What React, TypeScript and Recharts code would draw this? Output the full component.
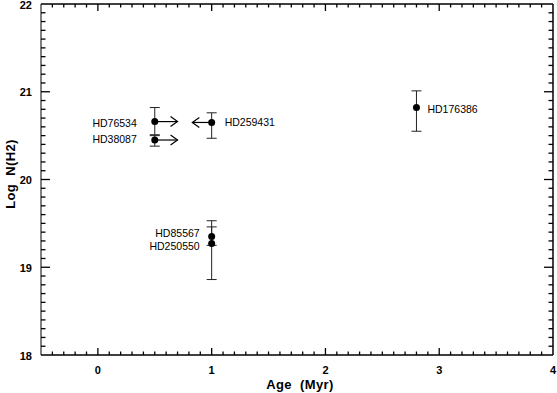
import React from 'react';
import { ScatterChart, Scatter, XAxis, YAxis, ErrorBar, ReferenceLine } from 'recharts';

// stars and measured column densities
const stars = ['HD76534', 'HD38087', 'HD259431', 'HD176386', 'HD85567', 'HD250550'];
const ages = [0.5, 0.5, 1, 2.8, 1, 1];
const logNH2 = [20.66, 20.45, 20.65, 20.82, 19.35, 19.27];
const errLow = [0.15, 0.07, 0.18, 0.27, 0.1, 0.41];
const errHigh = [0.16, 0.05, 0.11, 0.19, 0.18, 0.19];

// age limits (arrows): from the point age to the arrow tip
const limitStars = ['HD76534', 'HD38087', 'HD259431'];
const limitFrom = [0.5, 0.5, 1];
const limitTo = [0.7, 0.7, 0.83];
const limitY = [20.66, 20.45, 20.65];

const xMajor = [0, 1, 2, 3, 4];
const yMajor = [18, 19, 20, 21, 22];
// labels sitting on the box edges
const yEdgeLabels = [18, 22];
const xEdgeLabels = [4];

// label placement for each star
const labelPlace: Record<string, { side: string; gap: number; dy: number }> = {
  HD76534: { side: 'left', gap: 18, dy: 5.5 },
  HD38087: { side: 'left', gap: 18, dy: 2.5 },
  HD259431: { side: 'right', gap: 13, dy: 3.5 },
  HD176386: { side: 'right', gap: 11, dy: 5 },
  HD85567: { side: 'left', gap: 12, dy: 0.5 },
  HD250550: { side: 'left', gap: 12, dy: 6 },
};

const data = stars.map((name, i) => ({
  name,
  age: ages[i],
  logN: logNH2[i],
  err: [errLow[i], errHigh[i]],
}));

// minor ticks every 0.1 (inner ones only)
const xTicks: number[] = [];
for (let i = -4; i <= 39; i++) xTicks.push(i / 10);
const yTicks: number[] = [];
for (let i = 181; i <= 219; i++) yTicks.push(i / 10);

const font = 'Liberation Sans, Arial, Helvetica, sans-serif';
const isMajor = (v: number) => Math.abs(v - Math.round(v)) < 1e-6;

const BottomTick = (p: any) => {
  const v = p.payload.value;
  const m = isMajor(v);
  return (
    <g>
      <line x1={p.x} x2={p.x} y1={p.y} y2={p.y - (m ? 7 : 3.5)} stroke="#000" strokeWidth={1.3} />
      {m && xMajor.includes(Math.round(v)) && (
        <text x={p.x} y={p.y + 19} textAnchor="middle" fontFamily={font} fontWeight="bold" fontSize={11} fill="#000">
          {Math.round(v)}
        </text>
      )}
    </g>
  );
};

const TopTick = (p: any) => {
  const m = isMajor(p.payload.value);
  return <line x1={p.x} x2={p.x} y1={p.y} y2={p.y + (m ? 7 : 3.5)} stroke="#000" strokeWidth={1.3} />;
};

const LeftTick = (p: any) => {
  const v = p.payload.value;
  const m = isMajor(v);
  return (
    <g>
      <line x1={p.x} x2={p.x + (m ? 9 : 4.5)} y1={p.y} y2={p.y} stroke="#000" strokeWidth={1.3} />
      {m && yMajor.includes(Math.round(v)) && (
        <text x={p.x - 9} y={p.y + 4.5} textAnchor="end" fontFamily={font} fontWeight="bold" fontSize={11} fill="#000">
          {Math.round(v)}
        </text>
      )}
    </g>
  );
};

const RightTick = (p: any) => {
  const m = isMajor(p.payload.value);
  return <line x1={p.x} x2={p.x - (m ? 9 : 4.5)} y1={p.y} y2={p.y} stroke="#000" strokeWidth={1.3} />;
};

const yEdgeLabel = (t: number) => (p: any) => (
  <text x={p.viewBox.x - 9} y={p.viewBox.y + 4.5} textAnchor="end" fontFamily={font} fontWeight="bold" fontSize={11} fill="#000">
    {t}
  </text>
);

const xEdgeLabel = (t: number) => (p: any) => (
  <text x={p.viewBox.x} y={p.viewBox.y + p.viewBox.height + 19} textAnchor="middle" fontFamily={font} fontWeight="bold" fontSize={11} fill="#000">
    {t}
  </text>
);

const StarPoint = (p: any) => {
  const { cx, cy, payload } = p;
  const lab = labelPlace[payload.name];
  const left = lab.side === 'left';
  return (
    <g>
      <circle cx={cx} cy={cy} r={3.5} fill="#000" />
      <text
        x={left ? cx - lab.gap : cx + lab.gap}
        y={cy + lab.dy}
        textAnchor={left ? 'end' : 'start'}
        fontFamily={font}
        fontSize={10.5}
        fill="#000"
      >
        {payload.name}
      </text>
    </g>
  );
};

const Arrow = (p: any) => {
  const { x1, y1, x2, y2 } = p;
  const dir = x2 > x1 ? 1 : -1;
  return (
    <g stroke="#000" strokeWidth={1.2} fill="none">
      <line x1={x1} y1={y1} x2={x2} y2={y2} />
      <polyline points={`${x2 - dir * 7},${y2 - 5} ${x2},${y2} ${x2 - dir * 7},${y2 + 5}`} />
    </g>
  );
};

export default function App() {
  return (
    <div style={{ position: 'absolute', left: 0, top: 0, background: '#fff' }}>
      <ScatterChart width={557} height={393} margin={{ top: 3, right: 3, bottom: 0, left: 0 }}>
        <XAxis
          type="number"
          dataKey="age"
          domain={[-0.5, 4]}
          ticks={xTicks}
          interval={0}
          allowDataOverflow
          height={38}
          tickSize={0}
          tickMargin={0}
          tickLine={false}
          tick={<BottomTick />}
          axisLine={{ stroke: '#000' }}
          label={{
            content: () => (
              <text x={300} y={389} textAnchor="middle" fontFamily={font} fontWeight="bold" fontSize={13} letterSpacing={0.4} fill="#000" style={{ whiteSpace: 'pre' }}>
                {'Age  (Myr)'}
              </text>
            ),
          }}
        />
        <YAxis
          type="number"
          dataKey="logN"
          domain={[18, 22]}
          ticks={yTicks}
          interval={0}
          allowDataOverflow
          width={41}
          tickSize={0}
          tickMargin={0}
          tickLine={false}
          tick={<LeftTick />}
          axisLine={{ stroke: '#000' }}
          label={{
            content: () => (
              <text
                x={14.5}
                y={174}
                transform="rotate(-90 14.5 174)"
                textAnchor="middle"
                fontFamily={font}
                fontWeight="bold"
                fontSize={13}
                letterSpacing={0.4}
                fill="#000"
                style={{ whiteSpace: 'pre' }}
              >
                {'Log  N(H2)'}
              </text>
            ),
          }}
        />
        {/* mirrored axes closing the box */}
        <XAxis
          xAxisId="top"
          orientation="top"
          type="number"
          dataKey="age"
          domain={[-0.5, 4]}
          ticks={xTicks}
          interval={0}
          allowDataOverflow
          height={1}
          tickSize={0}
          tickMargin={0}
          tickLine={false}
          tick={<TopTick />}
          axisLine={{ stroke: '#000' }}
        />
        <YAxis
          yAxisId="right"
          orientation="right"
          type="number"
          dataKey="logN"
          domain={[18, 22]}
          ticks={yTicks}
          interval={0}
          allowDataOverflow
          width={1}
          tickSize={0}
          tickMargin={0}
          tickLine={false}
          tick={<RightTick />}
          axisLine={{ stroke: '#000' }}
        />
        <Scatter data={data} xAxisId="top" yAxisId="right" shape={() => <g />} isAnimationActive={false} />
        {yEdgeLabels.map((v) => (
          <ReferenceLine key={'ye' + v} y={v} ifOverflow="extendDomain" stroke="#000" label={{ content: yEdgeLabel(v) }} />
        ))}
        {xEdgeLabels.map((v) => (
          <ReferenceLine key={'xe' + v} x={v} ifOverflow="extendDomain" stroke="#000" label={{ content: xEdgeLabel(v) }} />
        ))}
        {limitStars.map((s, i) => (
          <ReferenceLine
            key={s}
            segment={[
              { x: limitFrom[i], y: limitY[i] },
              { x: limitTo[i], y: limitY[i] },
            ]}
            shape={<Arrow />}
          />
        ))}
        <Scatter data={data} shape={<StarPoint />} isAnimationActive={false}>
          <ErrorBar dataKey="err" direction="y" width={5} stroke="#222" strokeWidth={1} />
        </Scatter>
      </ScatterChart>
    </div>
  );
}
